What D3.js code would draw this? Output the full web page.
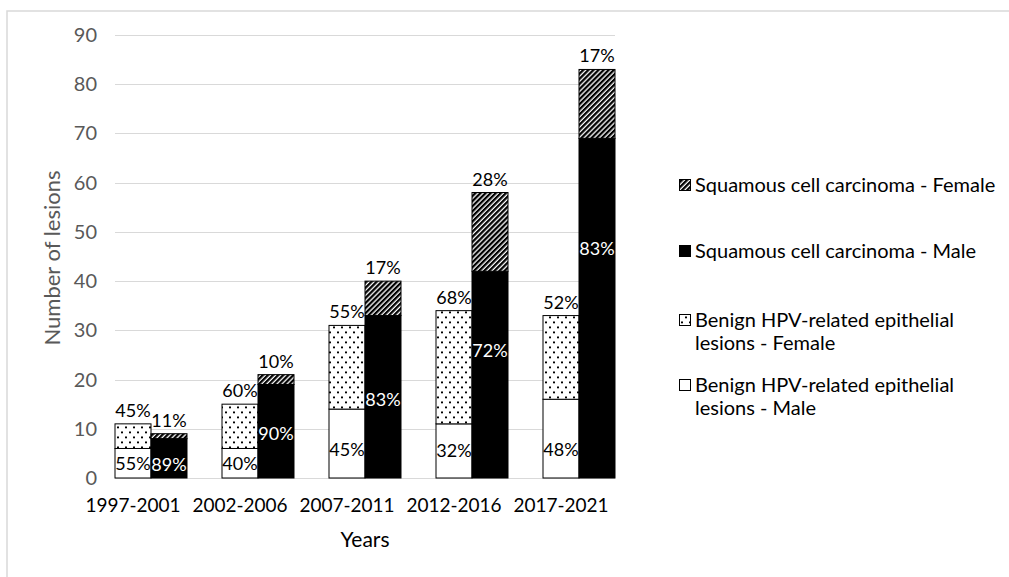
<!DOCTYPE html>
<meta charset="utf-8">
<style>
body { margin: 0; background: #fff; }
text { font-family: Lato, "Open Sans", sans-serif; }
.grid line { stroke: #d9d9d9; stroke-width: 1px; }
.tick-label { fill: #595959; font-size: 20px; }
.cat-label { fill: #000; font-size: 19px; }
.val-label { font-size: 18px; }
.legend text { fill: #000; font-size: 20px; }
</style>
<body>
<svg width="1009" height="577" id="chart"></svg>
<script src="https://d3js.org/d3.v7.min.js"></script>
<script>

// data
var categories = ["1997-2001", "2002-2006", "2007-2011", "2012-2016", "2017-2021"];
var benignMale   = [6, 6, 14, 11, 16];
var benignFemale = [5, 9, 17, 23, 17];
var sccMale      = [8, 19, 33, 42, 69];
var sccFemale    = [1, 2, 7, 16, 14];

var benignMalePct   = ["55%", "40%", "45%", "32%", "48%"];
var benignFemalePct = ["45%", "60%", "55%", "68%", "52%"];
var sccMalePct      = ["89%", "90%", "83%", "72%", "83%"];
var sccFemalePct    = ["11%", "10%", "17%", "28%", "17%"];

var yTicks = [0, 10, 20, 30, 40, 50, 60, 70, 80, 90];

// where the male carcinoma labels sit inside the black bars (in axis units, placed by hand in the original)
var sccMaleLabelAt = [2.7, 9.1, 15.9, 25.8, 46.5];

var svg = d3.select("svg"),
    width = +svg.attr("width"),
    height = +svg.attr("height");

svg.append("rect").attr("width", width).attr("height", height).attr("fill", "#fff");

// faint frame of the original figure (top and left edges only are visible)
svg.append("path")
    .attr("d", "M7," + height + "V11H" + width)
    .attr("fill", "none")
    .attr("stroke", "#d9d9d9")
    .attr("stroke-width", 1.5);

var defs = svg.append("defs");

var dots = defs.append("pattern")
    .attr("id", "dots")
    .attr("patternUnits", "userSpaceOnUse")
    .attr("width", 8).attr("height", 10);
dots.append("rect").attr("width", 8).attr("height", 10).attr("fill", "#fff");
dots.append("rect").attr("x", 1).attr("y", 1.5).attr("width", 2).attr("height", 1.8).attr("fill", "#000");
dots.append("rect").attr("x", 5).attr("y", 6.5).attr("width", 2).attr("height", 1.8).attr("fill", "#000");

var stripes = defs.append("pattern")
    .attr("id", "stripes")
    .attr("patternUnits", "userSpaceOnUse")
    .attr("width", 3.6).attr("height", 3.6)
    .attr("patternTransform", "rotate(45)");
stripes.append("rect").attr("width", 3.6).attr("height", 3.6).attr("fill", "#fff");
stripes.append("rect").attr("width", 2.3).attr("height", 3.6).attr("fill", "#000");

var x = d3.scaleBand()
    .domain(categories)
    .range([79.5, 614.5]);

var y = d3.scaleLinear()
    .domain([0, 90])
    .range([478, 35]);

var barW = 36;
function center(c) { return x(c) + x.bandwidth() / 2; }

var gridLeft = center(categories[0]) - barW / 2,
    gridRight = center(categories[categories.length - 1]) + barW / 2 + barW;

// gridlines
svg.append("g")
    .attr("class", "grid")
    .selectAll("line")
    .data(yTicks)
    .enter().append("line")
    .attr("x1", gridLeft)
    .attr("x2", gridRight)
    .attr("y1", function(d) { return Math.round(y(d)) + 0.5; })
    .attr("y2", function(d) { return Math.round(y(d)) + 0.5; });

// y tick labels
svg.append("g")
    .selectAll("text")
    .data(yTicks)
    .enter().append("text")
    .attr("class", "tick-label")
    .attr("x", 97)
    .attr("y", function(d) { return y(d); })
    .attr("dy", "0.35em")
    .attr("text-anchor", "end")
    .text(function(d) { return d; });

// stacked columns, two per period
var rows = categories.map(function(c, i) {
    return { cat: c, bm: benignMale[i], bf: benignFemale[i], sm: sccMale[i], sf: sccFemale[i], i: i };
});

var benignStack = d3.stack().keys(["bm", "bf"])(rows);
var sccStack = d3.stack().keys(["sm", "sf"])(rows);

var fills = { bm: "#fff", bf: "url(#dots)", sm: "#000", sf: "url(#stripes)" };

function drawGroup(stack, offset) {
    svg.append("g")
        .selectAll("g")
        .data(stack)
        .enter().append("g")
        .attr("fill", function(s) { return fills[s.key]; })
        .selectAll("rect")
        .data(function(s) { return s; })
        .enter().append("rect")
        .attr("x", function(d) { return center(d.data.cat) + offset; })
        .attr("y", function(d) { return y(d[1]); })
        .attr("width", barW)
        .attr("height", function(d) { return y(d[0]) - y(d[1]); })
        .attr("stroke", "#000")
        .attr("stroke-width", 1);
}

drawGroup(benignStack, -barW / 2);
drawGroup(sccStack, barW / 2);

// percentage labels
var labels = svg.append("g").attr("class", "val-label").attr("text-anchor", "middle");

// female shares sit on top of each column
labels.selectAll(".bf")
    .data(rows)
    .enter().append("text")
    .attr("x", function(d) { return center(d.cat); })
    .attr("y", function(d) { return y(d.bm + d.bf) - 7; })
    .attr("fill", "#000")
    .text(function(d) { return benignFemalePct[d.i]; });

labels.selectAll(".sf")
    .data(rows)
    .enter().append("text")
    .attr("x", function(d) { return center(d.cat) + barW; })
    .attr("y", function(d) { return y(d.sm + d.sf) - 7; })
    .attr("fill", "#000")
    .text(function(d) { return sccFemalePct[d.i]; });

// male shares inside the lower segment
labels.selectAll(".bm")
    .data(rows)
    .enter().append("text")
    .attr("x", function(d) { return center(d.cat); })
    .attr("y", function(d) { return y(Math.min(d.bm / 2, 5.7)); })
    .attr("dy", "0.35em")
    .attr("fill", "#000")
    .text(function(d) { return benignMalePct[d.i]; });

labels.selectAll(".sm")
    .data(rows)
    .enter().append("text")
    .attr("x", function(d) { return center(d.cat) + barW; })
    .attr("y", function(d) { return y(sccMaleLabelAt[d.i]); })
    .attr("dy", "0.35em")
    .attr("fill", "#fff")
    .text(function(d) { return sccMalePct[d.i]; });

// x category labels
svg.append("g")
    .selectAll("text")
    .data(categories)
    .enter().append("text")
    .attr("class", "cat-label")
    .attr("x", function(d) { return center(d); })
    .attr("y", 512)
    .attr("text-anchor", "middle")
    .text(function(d) { return d; });

// axis titles
svg.append("text")
    .attr("x", 365)
    .attr("y", 547)
    .attr("text-anchor", "middle")
    .attr("font-size", 21)
    .attr("fill", "#000")
    .text("Years");

svg.append("text")
    .attr("transform", "translate(60,258) rotate(-90)")
    .attr("text-anchor", "middle")
    .attr("font-size", 22)
    .attr("fill", "#595959")
    .text("Number of lesions");

// legend
var legendItems = [
    { fill: "url(#stripes)", lines: ["Squamous cell carcinoma - Female"], base: 192 },
    { fill: "#000", lines: ["Squamous cell carcinoma - Male"], base: 258 },
    { fill: "url(#dots)", lines: ["Benign HPV-related epithelial", "lesions - Female"], base: 327 },
    { fill: "#fff", lines: ["Benign HPV-related epithelial", "lesions - Male"], base: 392 }
];

var legend = svg.append("g").attr("class", "legend");
var item = legend.selectAll("g")
    .data(legendItems)
    .enter().append("g");

item.append("rect")
    .attr("x", 679.5)
    .attr("y", function(d) { return d.base - 12.5; })
    .attr("width", 11)
    .attr("height", 11)
    .attr("fill", function(d) { return d.fill; })
    .attr("stroke", "#000")
    .attr("stroke-width", 1);

item.append("text")
    .attr("x", 695)
    .attr("y", function(d) { return d.base; })
    .selectAll("tspan")
    .data(function(d) { return d.lines; })
    .enter().append("tspan")
    .attr("x", 695)
    .attr("dy", function(d, i) { return i ? 23 : 0; })
    .text(function(d) { return d; });

</script>
</body>
